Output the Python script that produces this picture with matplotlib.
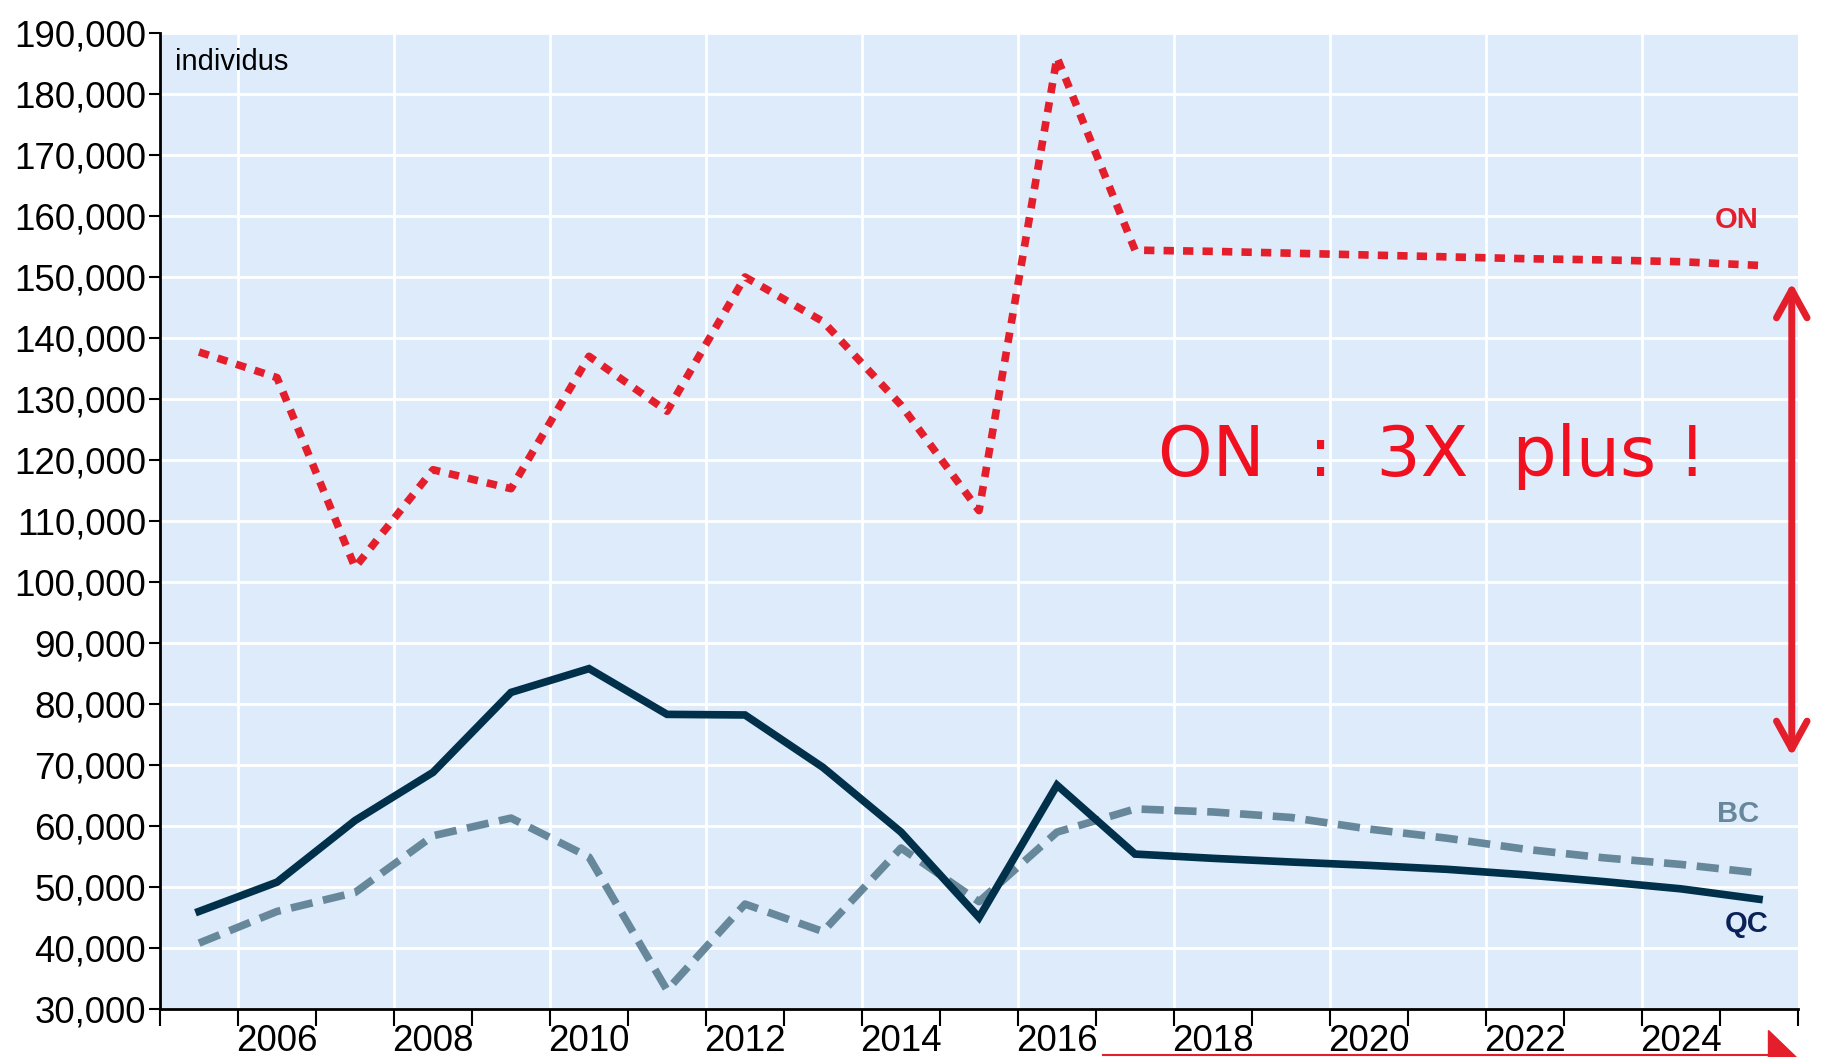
import matplotlib.pyplot as plt
from matplotlib.patches import Polygon
from matplotlib.lines import Line2D

# --- data ---
years = list(range(2005, 2026))
on_vals = [137700, 133500, 102400, 118400, 115300, 137000, 128000, 150000, 142700,
           129000, 111700, 186000, 154400, 154200, 153900, 153600, 153300, 153000,
           152800, 152500, 151900]
qc_vals = [46000, 50800, 60900, 68800, 81900, 85800, 78300, 78200, 69600,
           59000, 45000, 66700, 55400, 54700, 54100, 53550, 52900, 52000,
           50900, 49700, 48000]
bc_vals = [40800, 46000, 49100, 58400, 61300, 54900, 33100, 47200, 42700,
           56400, 47600, 59000, 62800, 62300, 61400, 59500, 58000, 56200,
           54800, 53700, 52300]
label_years = [2006, 2008, 2010, 2012, 2014, 2016, 2018, 2020, 2022, 2024]
y_ticks = list(range(30000, 190001, 10000))

RED = '#E41E2B'
NAVY = '#00304A'
GREY = '#67889A'
BG = '#DDEBFB'

plt.rcParams['font.family'] = ['Liberation Sans', 'DejaVu Sans']

fig = plt.figure(figsize=(18.46, 10.57), dpi=100)
ax = fig.add_axes([0.0867, 0.0454, 0.974 - 0.0867, 0.9688 - 0.0454])
ax.set_facecolor(BG)

ax.set_xlim(2004.5, 2025.5)
ax.set_ylim(30000, 190000)

# grid: horizontal at every 10k, vertical between every second year
for v in y_ticks:
    ax.axhline(v, color='white', lw=2, zorder=1)
for g in [y - 0.5 for y in label_years]:
    ax.axvline(g, color='white', lw=2, zorder=1)

ax.plot(years, on_vals, color=RED, lw=5.5, linestyle=(0, (1.35, 1.2)),
        dash_capstyle='butt', zorder=3)
ax.plot(years, bc_vals, color=GREY, lw=5.5, linestyle=(0, (2.9, 1.4)),
        dash_capstyle='butt', zorder=3)
ax.plot(years, qc_vals, color=NAVY, lw=5.5, solid_joinstyle='miter', zorder=4)

ax.text(2025, 159300, 'ON', color=RED, fontsize=21, fontweight='bold',
        ha='right', va='center')
ax.text(2025, 62000, 'BC', color=GREY, fontsize=21, fontweight='bold',
        ha='right', va='center')
ax.text(2025.12, 43900, 'QC', color='#0A2258', fontsize=21, fontweight='bold',
        ha='right', va='center')
ax.text(0.009, 0.985, 'individus', transform=ax.transAxes, fontsize=21,
        ha='left', va='top')

# axes styling
for s in ['top', 'right']:
    ax.spines[s].set_visible(False)
for s in ['left', 'bottom']:
    ax.spines[s].set_linewidth(2)
ax.set_yticks(y_ticks)
ax.set_yticklabels([f'{v:,}' for v in y_ticks])
ax.tick_params(axis='y', labelsize=26.5, length=8, width=1.5, pad=2)

ax.set_xticks([y - 0.5 for y in years] + [2025.5])
ax.set_xticklabels([])
ax.tick_params(axis='x', which='major', length=12, width=1.5)
ax.set_xticks(label_years, minor=True)
ax.set_xticklabels([str(y) for y in label_years], minor=True)
ax.tick_params(axis='x', which='minor', length=0, labelsize=26.5, pad=11)

# hand-drawn style annotation
ax.text(2017.3, 120500, 'ON  :  3X  plus !', color='#F01020', fontsize=50,
        fontfamily='DejaVu Sans', ha='left', va='center', zorder=5)
ax.annotate('', xy=(2025.42, 71000), xytext=(2025.42, 149500),
            arrowprops=dict(arrowstyle='<->,head_length=2.0,head_width=1.1',
                            color=RED, lw=5),
            annotation_clip=False, zorder=6)

# slide decorations at the bottom
fig.add_artist(Line2D([1103 / 1846, 1768 / 1846], [0.0015, 0.0015],
                      color=RED, lw=1.5, transform=fig.transFigure))
fig.add_artist(Polygon([[1768 / 1846, 27 / 1057], [1768 / 1846, 0],
                        [1796 / 1846, 0]], closed=True, color=RED,
                       transform=fig.transFigure))

fig.savefig('out.png', dpi=100)
